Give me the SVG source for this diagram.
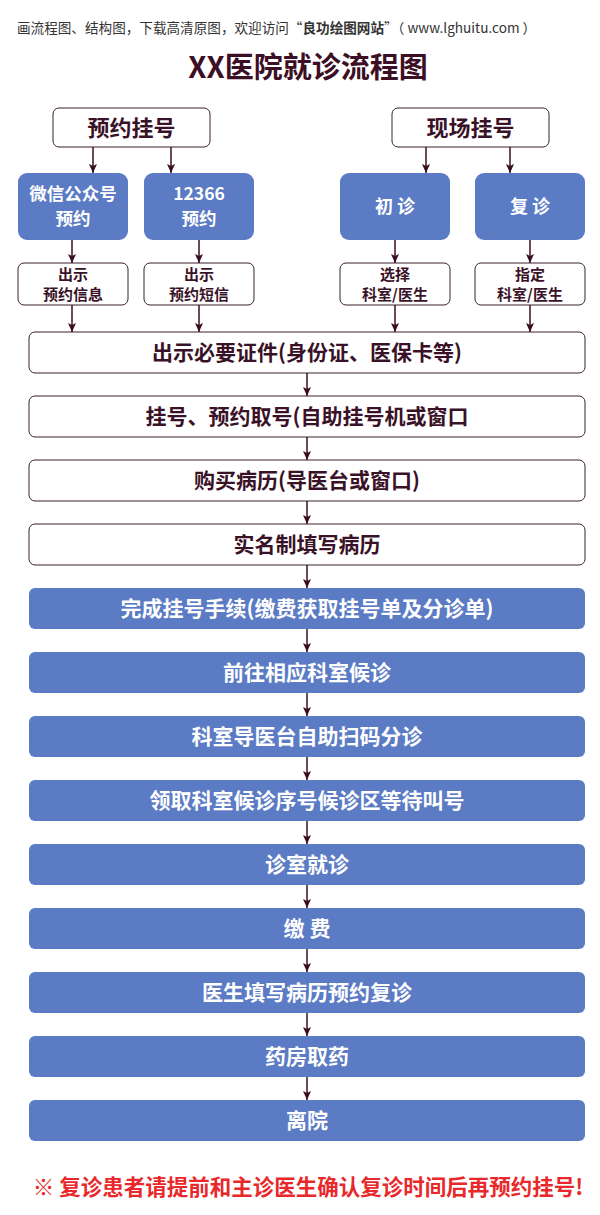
<svg xmlns="http://www.w3.org/2000/svg" width="600" height="1215" viewBox="0 0 600 1215">
<style>
text{font-family:"Noto Sans CJK SC","Liberation Sans",sans-serif;text-anchor:middle}
.w{fill:#fff;stroke:#3a2030;stroke-width:1}
.b{fill:#5b7bc4}
.tw{fill:#fff;font-weight:bold}
.td{fill:#3a1228;font-weight:bold}
.m{font-size:21px}
.ln{stroke:#3a0e22;stroke-width:1.5;fill:none;marker-end:url(#ah)}
</style>
<defs>
<marker id="ah" markerWidth="10" markerHeight="8" refX="9" refY="4" orient="auto" markerUnits="userSpaceOnUse">
<path d="M0,0 L9,4 L0,8 L2,4 Z" fill="#3a0e22"/>
</marker>
</defs>
<rect width="600" height="1215" fill="#fff"/>
<text x="17" y="33" style="text-anchor:start;font-size:13.6px;fill:#333">画流程图、结构图，下载高清原图，欢迎访问“<tspan font-weight="bold">良功绘图网站</tspan>”（ www.lghuitu.com ）</text>
<text x="308" y="78" style="font-size:29px;font-weight:bold;fill:#3d0f25">XX医院就诊流程图</text>

<g id="connectors">
<line class="ln" x1="93" y1="147" x2="93" y2="173"/>
<line class="ln" x1="171" y1="147" x2="171" y2="173"/>
<line class="ln" x1="426" y1="147" x2="426" y2="173"/>
<line class="ln" x1="510" y1="147" x2="510" y2="173"/>
<line class="ln" x1="72" y1="240" x2="72" y2="263"/>
<line class="ln" x1="199" y1="240" x2="199" y2="263"/>
<line class="ln" x1="395" y1="240" x2="395" y2="263"/>
<line class="ln" x1="530" y1="240" x2="530" y2="263"/>
<line class="ln" x1="72" y1="305" x2="72" y2="332"/>
<line class="ln" x1="199" y1="305" x2="199" y2="332"/>
<line class="ln" x1="395" y1="305" x2="395" y2="332"/>
<line class="ln" x1="530" y1="305" x2="530" y2="332"/>
<line class="ln" x1="307" y1="373" x2="307" y2="396"/>
<line class="ln" x1="307" y1="437" x2="307" y2="460"/>
<line class="ln" x1="307" y1="501" x2="307" y2="524"/>
<line class="ln" x1="307" y1="565" x2="307" y2="588"/>
<line class="ln" x1="307" y1="629" x2="307" y2="652"/>
<line class="ln" x1="307" y1="693" x2="307" y2="716"/>
<line class="ln" x1="307" y1="757" x2="307" y2="780"/>
<line class="ln" x1="307" y1="821" x2="307" y2="844"/>
<line class="ln" x1="307" y1="885" x2="307" y2="908"/>
<line class="ln" x1="307" y1="949" x2="307" y2="972"/>
<line class="ln" x1="307" y1="1013" x2="307" y2="1036"/>
<line class="ln" x1="307" y1="1077" x2="307" y2="1100"/>
</g>

<g id="n-yuyue"><rect class="w" x="53" y="108" width="157" height="39" rx="6"/><text class="td" x="131.5" y="135.5" style="font-size:22px">预约挂号</text></g>
<g id="n-xianchang"><rect class="w" x="392" y="108" width="157" height="39" rx="6"/><text class="td" x="470.5" y="135.5" style="font-size:22px">现场挂号</text></g>

<g id="n-weixin"><rect class="b" x="18" y="173" width="110" height="67" rx="9"/><text class="tw" x="73" y="200" style="font-size:17.5px">微信公众号</text><text class="tw" x="73" y="225" style="font-size:17.5px">预约</text></g>
<g id="n-12366"><rect class="b" x="144" y="173" width="110" height="67" rx="9"/><text class="tw" x="199" y="200" style="font-size:17.5px">12366</text><text class="tw" x="199" y="225" style="font-size:17.5px">预约</text></g>
<g id="n-chuzhen"><rect class="b" x="340" y="173" width="110" height="67" rx="9"/><text class="tw" x="395" y="213" style="font-size:18px">初 诊</text></g>
<g id="n-fuzhen"><rect class="b" x="475" y="173" width="110" height="67" rx="9"/><text class="tw" x="530" y="213" style="font-size:18px">复 诊</text></g>

<g id="n-s1"><rect class="w" x="18" y="263" width="110" height="42" rx="6"/><text class="td" x="73" y="280" style="font-size:15px">出示</text><text class="td" x="73" y="300" style="font-size:15px">预约信息</text></g>
<g id="n-s2"><rect class="w" x="144" y="263" width="110" height="42" rx="6"/><text class="td" x="199" y="280" style="font-size:15px">出示</text><text class="td" x="199" y="300" style="font-size:15px">预约短信</text></g>
<g id="n-s3"><rect class="w" x="340" y="263" width="110" height="42" rx="6"/><text class="td" x="395" y="280" style="font-size:15px">选择</text><text class="td" x="395" y="300" style="font-size:15px">科室/医生</text></g>
<g id="n-s4"><rect class="w" x="475" y="263" width="110" height="42" rx="6"/><text class="td" x="530" y="280" style="font-size:15px">指定</text><text class="td" x="530" y="300" style="font-size:15px">科室/医生</text></g>

<g id="n-m1"><rect class="w" x="29" y="332" width="556" height="41" rx="6"/><text class="td m" x="307" y="360">出示必要证件(身份证、医保卡等)</text></g>
<g id="n-m2"><rect class="w" x="29" y="396" width="556" height="41" rx="6"/><text class="td m" x="307" y="424">挂号、预约取号(自助挂号机或窗口</text></g>
<g id="n-m3"><rect class="w" x="29" y="460" width="556" height="41" rx="6"/><text class="td m" x="307" y="488">购买病历(导医台或窗口)</text></g>
<g id="n-m4"><rect class="w" x="29" y="524" width="556" height="41" rx="6"/><text class="td m" x="307" y="552">实名制填写病历</text></g>
<g id="n-m5"><rect class="b" x="29" y="588" width="556" height="41" rx="6"/><text class="tw m" x="307" y="616">完成挂号手续(缴费获取挂号单及分诊单)</text></g>
<g id="n-m6"><rect class="b" x="29" y="652" width="556" height="41" rx="6"/><text class="tw m" x="307" y="680">前往相应科室候诊</text></g>
<g id="n-m7"><rect class="b" x="29" y="716" width="556" height="41" rx="6"/><text class="tw m" x="307" y="744">科室导医台自助扫码分诊</text></g>
<g id="n-m8"><rect class="b" x="29" y="780" width="556" height="41" rx="6"/><text class="tw m" x="307" y="808">领取科室候诊序号候诊区等待叫号</text></g>
<g id="n-m9"><rect class="b" x="29" y="844" width="556" height="41" rx="6"/><text class="tw m" x="307" y="872">诊室就诊</text></g>
<g id="n-m10"><rect class="b" x="29" y="908" width="556" height="41" rx="6"/><text class="tw m" x="307" y="936">缴 费</text></g>
<g id="n-m11"><rect class="b" x="29" y="972" width="556" height="41" rx="6"/><text class="tw m" x="307" y="1000">医生填写病历预约复诊</text></g>
<g id="n-m12"><rect class="b" x="29" y="1036" width="556" height="41" rx="6"/><text class="tw m" x="307" y="1064">药房取药</text></g>
<g id="n-m13"><rect class="b" x="29" y="1100" width="556" height="41" rx="6"/><text class="tw m" x="307" y="1128">离院</text></g>

<text x="308" y="1195" style="font-size:21.5px;font-weight:bold;fill:#e8282b"><tspan font-weight="normal">※</tspan> 复诊患者请提前和主诊医生确认复诊时间后再预约挂号!</text>
</svg>
